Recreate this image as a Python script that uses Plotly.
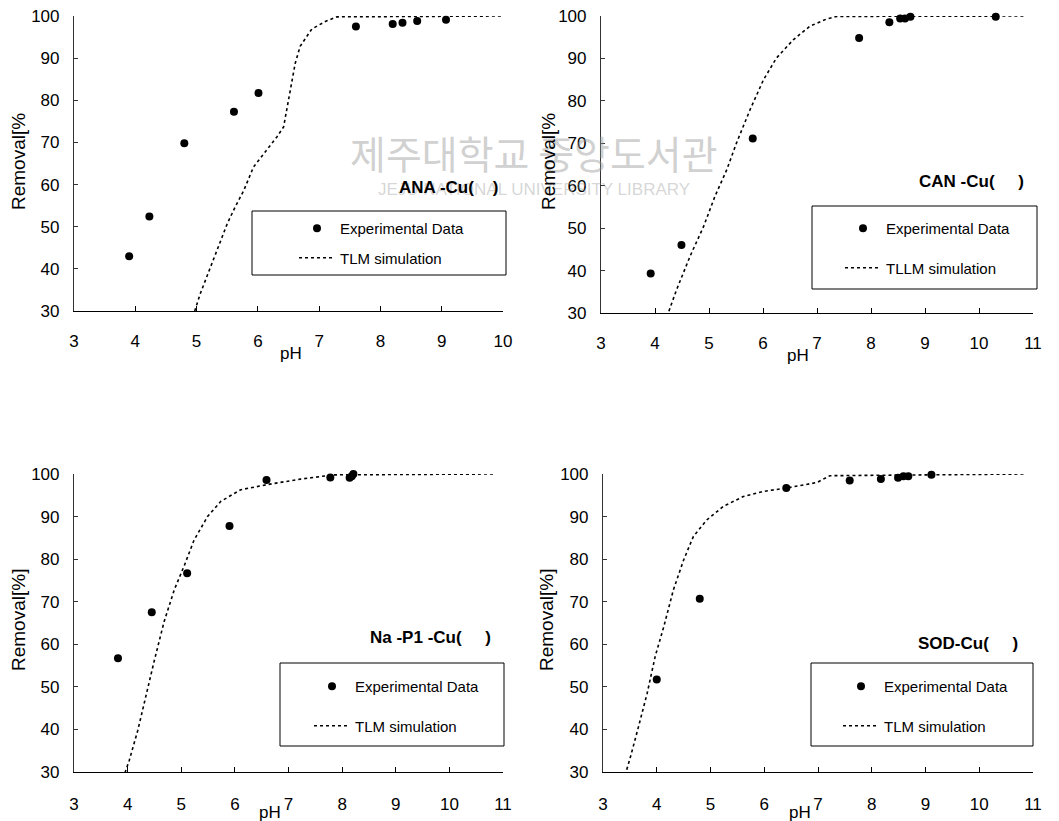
import plotly.graph_objects as go

W, H = 1059, 821

# ---------------- data ----------------
ana_ph = [3.90, 4.23, 4.80, 5.61, 6.01, 7.60, 8.20, 8.36, 8.60, 9.07]
ana_rem = [43.0, 52.4, 69.8, 77.3, 81.7, 97.5, 98.1, 98.4, 98.8, 99.1]
ana_sim_ph = [4.97, 5.06, 5.28, 5.50, 5.63, 5.77, 5.93, 6.15, 6.31, 6.42, 6.45, 6.53,
              6.61, 6.69, 6.88, 7.10, 7.29, 10.0]
ana_sim_rem = [30.0, 34.1, 42.4, 50.7, 54.7, 58.6, 64.2, 68.2, 71.3, 73.7, 76.1, 83.3,
               88.8, 92.8, 96.9, 98.7, 99.8, 100.0]

can_ph = [3.92, 4.49, 5.81, 7.78, 8.34, 8.54, 8.63, 8.73, 10.31]
can_rem = [39.3, 46.0, 71.1, 94.8, 98.5, 99.4, 99.4, 99.8, 99.8]
can_sim_ph = [4.22, 4.40, 4.65, 4.90, 5.11, 5.33, 5.51, 5.76, 6.01, 6.25, 6.56, 6.87,
              7.18, 7.36, 10.85]
can_sim_rem = [29.1, 35.5, 43.4, 50.4, 57.5, 63.8, 70.1, 77.9, 85.0, 90.1, 94.4, 97.6,
               99.3, 99.9, 100.0]

nap_ph = [3.82, 4.45, 5.11, 5.90, 6.59, 7.78, 8.14, 8.18, 8.21]
nap_rem = [56.7, 67.5, 76.7, 87.8, 98.6, 99.2, 99.1, 99.5, 100.0]
nap_sim_ph = [3.95, 4.03, 4.19, 4.34, 4.50, 4.68, 4.87, 5.06, 5.24, 5.49, 5.74, 6.11,
              6.60, 7.22, 7.84, 10.85]
nap_sim_rem = [29.8, 32.7, 39.8, 48.0, 56.3, 65.3, 72.8, 78.6, 84.5, 90.0, 93.6, 96.3,
               97.5, 98.8, 99.8, 100.0]

sod_ph = [4.00, 4.80, 6.41, 7.59, 8.17, 8.49, 8.59, 8.68, 9.11]
sod_rem = [51.7, 70.7, 96.7, 98.5, 98.8, 99.1, 99.5, 99.5, 99.8]
sod_sim_ph = [3.41, 3.51, 3.66, 3.82, 3.97, 4.13, 4.31, 4.50, 4.68, 4.93, 5.24, 5.61,
              5.98, 6.41, 6.98, 7.22, 10.85]
sod_sim_rem = [29.2, 33.5, 40.6, 48.4, 57.1, 64.1, 72.8, 79.8, 85.3, 89.2, 92.4, 94.7,
               95.9, 96.7, 98.0, 99.6, 100.0]

panel_titles = ["ANA -Cu(    )", "CAN -Cu(     )", "Na -P1 -Cu(     )", "SOD-Cu(     )"]
sim_names = ["TLM simulation", "TLLM simulation", "TLM simulation", "TLM simulation"]
y_titles = ["Removal[%", "Removal[%", "Removal[%]", "Removal[%]"]
x_ranges = [[3, 10], [3, 11], [3, 11], [3, 11]]
y_range = [30, 100]

# ---------------- layout geometry (pixels -> paper fractions) ----------------
def px(x):
    return x / W

def py(y):
    return 1 - y / H

# plot area boxes: (left, right, top, bottom)
boxes = [(74, 503, 16, 311), (601, 1033, 16, 313), (74, 503, 474, 772), (603, 1033, 474, 772)]
legend_frames = [(252, 506, 211, 275), (812, 1037, 206, 289), (280, 504, 663, 746), (811, 1033, 663, 746)]
legend_pos = [(294, 212), (840, 212), (309, 670), (838, 670)]
legend_gap = [7, 17, 17, 17]
title_pos = [(500, 187), (1026, 182), (493, 637), (1020, 643)]
ph_pos = [(291, 353), (798, 355), (270, 812), (800, 812)]
ytitle_pos = [(18, 162), (548, 162), (18, 620), (546, 620)]
x_label_standoff = [14, 14, 16, 16]

data_sets = [
    (ana_ph, ana_rem, ana_sim_ph, ana_sim_rem),
    (can_ph, can_rem, can_sim_ph, can_sim_rem),
    (nap_ph, nap_rem, nap_sim_ph, nap_sim_rem),
    (sod_ph, sod_rem, sod_sim_ph, sod_sim_rem),
]

FONT = "Liberation Sans, Arial, sans-serif"

fig = go.Figure()
layout = dict(
    width=W, height=H, margin=dict(l=0, r=0, t=0, b=0, autoexpand=False),
    paper_bgcolor="white", plot_bgcolor="white",
    font=dict(family=FONT, color="black", size=17),
    showlegend=True,
)
annotations = []
shapes = []

for i, (ex, ey, sx, sy) in enumerate(data_sets):
    n = i + 1
    xa = "x" if n == 1 else f"x{n}"
    ya = "y" if n == 1 else f"y{n}"
    lg = "legend" if n == 1 else f"legend{n}"
    fig.add_trace(go.Scatter(
        x=ex, y=ey, mode="markers", name="Experimental Data",
        marker=dict(color="black", size=8), xaxis=xa, yaxis=ya,
        legend=lg, legendgroup=f"e{n}", cliponaxis=False,
    ))
    fig.add_trace(go.Scatter(
        x=sx, y=sy, mode="lines", name=sim_names[i],
        line=dict(color="black", width=1.6, dash="3px,3px"), xaxis=xa, yaxis=ya,
        legend=lg, legendgroup=f"s{n}", cliponaxis=False,
    ))

    l, r, t, b = boxes[i]
    xkey = "xaxis" if n == 1 else f"xaxis{n}"
    ykey = "yaxis" if n == 1 else f"yaxis{n}"
    layout[xkey] = dict(
        domain=[px(l), px(r)], range=x_ranges[i], anchor=ya, automargin=False,
        showline=True, linecolor="black", linewidth=1.2, mirror=False,
        ticks="inside", ticklen=5, tickcolor="black", tickwidth=1,
        dtick=1, tick0=3, showgrid=False, zeroline=False,
        tickfont=dict(size=17, family=FONT), ticklabelstandoff=x_label_standoff[i],
    )
    layout[ykey] = dict(
        domain=[py(b), py(t)], range=y_range, anchor=xa, automargin=False,
        showline=True, linecolor="#333333", linewidth=1.2,
        ticks="inside", ticklen=4, tickcolor="#333333", tickwidth=1,
        dtick=10, tick0=30, showgrid=False, zeroline=False,
        tickfont=dict(size=17, family=FONT), ticklabelstandoff=10,
    )
    lx, ly = legend_pos[i]
    layout[lg] = dict(
        x=px(lx), y=py(ly), xanchor="left", yanchor="top",
        bgcolor="rgba(0,0,0,0)", borderwidth=0, itemwidth=36,
        font=dict(size=15, family=FONT, color="black"),
        tracegroupgap=legend_gap[i], traceorder="grouped",
    )
    fl, fr, ft, fb = legend_frames[i]
    shapes.append(dict(type="rect", xref="paper", yref="paper",
                       x0=px(fl), x1=px(fr), y0=py(fb), y1=py(ft),
                       line=dict(color="black", width=1), fillcolor="rgba(0,0,0,0)"))
    tx, ty = title_pos[i]
    annotations.append(dict(x=px(tx), y=py(ty), xref="paper", yref="paper",
                            text=f"<b>{panel_titles[i]}</b>", showarrow=False,
                            xanchor="right", yanchor="middle",
                            font=dict(size=17, family=FONT, color="black")))
    phx, phy = ph_pos[i]
    annotations.append(dict(x=px(phx), y=py(phy), xref="paper", yref="paper",
                            text="pH", showarrow=False, xanchor="center", yanchor="middle",
                            font=dict(size=17, family=FONT, color="black")))
    yx, yy = ytitle_pos[i]
    annotations.append(dict(x=px(yx), y=py(yy), xref="paper", yref="paper",
                            text=y_titles[i], showarrow=False, textangle=-90,
                            xanchor="center", yanchor="middle",
                            font=dict(size=19, family=FONT, color="black")))

# library watermark text
annotations.insert(0, dict(x=px(534), y=py(152), xref="paper", yref="paper",
                           text="제주대학교 중앙도서관", showarrow=False,
                           xanchor="center", yanchor="middle",
                           font=dict(size=39, family="Noto Sans CJK KR", color="rgba(150,150,150,0.45)")))
annotations.insert(1, dict(x=px(534), y=py(190), xref="paper", yref="paper",
                           text="JEJU NATIONAL UNIVERSITY LIBRARY", showarrow=False,
                           xanchor="center", yanchor="middle",
                           font=dict(size=17, family=FONT, color="rgba(150,150,150,0.4)")))

layout["annotations"] = annotations
layout["shapes"] = shapes
fig.update_layout(**layout)
fig.write_html("out.html")
